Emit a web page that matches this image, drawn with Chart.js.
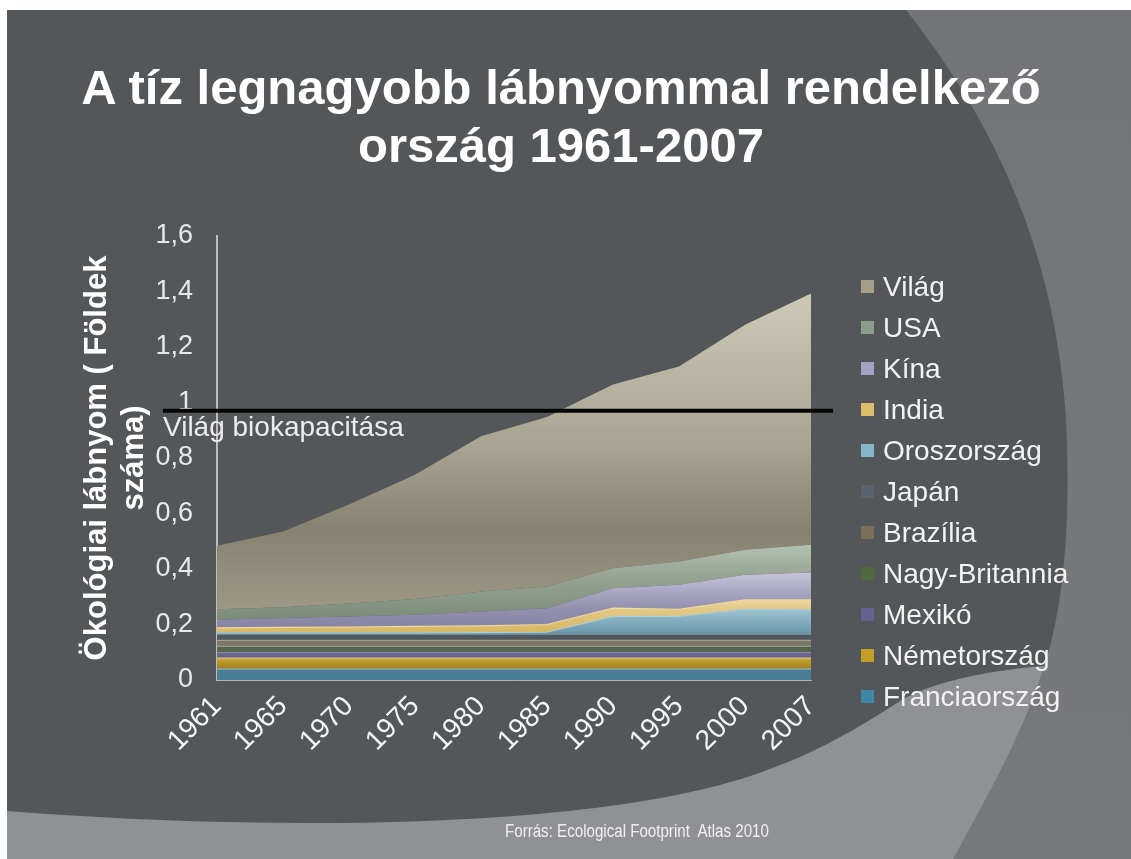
<!DOCTYPE html>
<html lang="hu">
<head>
<meta charset="utf-8">
<title>A tíz legnagyobb lábnyommal rendelkező ország 1961-2007</title>
<script src="https://cdn.jsdelivr.net/npm/chart.js@4.4.1/dist/chart.umd.min.js"></script>
<style>
  html, body { margin: 0; padding: 0; background: #fff; }
  #slide { position: relative; width: 1131px; height: 859px; overflow: hidden; font-family: 'Liberation Sans', Arial, sans-serif; }
  #bg, #c { position: absolute; left: 0; top: 0; }
  #title { position: absolute; left: 0; top: 59px; width: 1122px; text-align: center; color: #fff; font-weight: bold; font-size: 49px; line-height: 57.6px; white-space: nowrap; }
  #legend { position: absolute; left: 861px; top: 266px; }
  .item { height: 41px; display: flex; align-items: center; color: #f2f2f2; font-size: 28px; white-space: nowrap; }
  .item .box { width: 13px; height: 13px; margin-right: 9px; flex: none; }
  #source { position: absolute; left: 505px; top: 822px; font-size: 18px; line-height: 1; color: #f0f0f0; white-space: pre; transform: scaleX(0.84); transform-origin: 0 0; }
</style>
</head>
<body>
<div id="slide">
  <svg id="bg" width="1131" height="859">
    <defs>
      <linearGradient id="side" x1="0" y1="0" x2="0" y2="1">
        <stop offset="0" stop-color="#727477"/>
        <stop offset="1" stop-color="#77797c"/>
      </linearGradient>
    </defs>
    <rect x="7" y="10" width="1124" height="849" fill="#54575a"/>
    <path d="M7 811 C 250 830, 550 830, 720 785 C 790 766, 840 740, 897 703 C 930 681, 1000 668, 1060 665 L1131 650 L1131 859 L7 859 Z" fill="#8f9194"/>
    <path d="M906 10 C 985 110, 1055 240, 1066 420 C 1072 540, 1060 620, 1043 670 C 1020 740, 985 800, 953 859 L1131 859 L1131 10 Z" fill="url(#side)"/>
  </svg>
  <canvas id="c" width="1131" height="859"></canvas>
  <div id="title">A tíz legnagyobb lábnyommal rendelkező<br>ország 1961-2007</div>
  <div id="legend"></div>
  <div id="source">Forrás: Ecological Footprint  Atlas 2010</div>
</div>
<script>
    // adatok (Földek száma, rétegenként)
    const years = ['1961', '1965', '1970', '1975', '1980', '1985', '1990', '1995', '2000', '2007'];
    const franciaorszag = [0.039, 0.039, 0.039, 0.039, 0.039, 0.039, 0.039, 0.039, 0.039, 0.039];
    const nemetorszag   = [0.040, 0.040, 0.040, 0.040, 0.040, 0.040, 0.040, 0.040, 0.040, 0.040];
    const mexiko        = [0.020, 0.020, 0.020, 0.020, 0.020, 0.020, 0.020, 0.020, 0.020, 0.020];
    const nagyBritannia = [0.022, 0.022, 0.022, 0.022, 0.022, 0.022, 0.022, 0.022, 0.022, 0.022];
    const brazilia      = [0.022, 0.022, 0.022, 0.022, 0.022, 0.022, 0.022, 0.022, 0.022, 0.022];
    const japan         = [0.021, 0.021, 0.021, 0.021, 0.021, 0.021, 0.021, 0.021, 0.021, 0.021];
    const oroszorszag   = [0.006, 0.006, 0.006, 0.006, 0.007, 0.008, 0.065, 0.065, 0.091, 0.089];
    const india         = [0.018, 0.020, 0.021, 0.023, 0.024, 0.028, 0.030, 0.026, 0.034, 0.036];
    const kina          = [0.029, 0.033, 0.038, 0.042, 0.052, 0.059, 0.072, 0.088, 0.090, 0.098];
    const usa           = [0.038, 0.039, 0.047, 0.057, 0.072, 0.078, 0.072, 0.084, 0.090, 0.100];
    const vilag         = [0.229, 0.273, 0.356, 0.448, 0.559, 0.611, 0.662, 0.703, 0.811, 0.906];
    const bioCapacity = 0.97;
    const bioLabel = 'Világ biokapacitása';

    // réteg színek: [név, adat, legenda szín, kitöltés (szín vagy gradiens), felső vonal]
    const layers = [
        ['Franciaország', franciaorszag, '#3e88a6', '#497e95', '#86b4c4'],
        ['Németország', nemetorszag, '#c29e25', [[0.946, '#d2b04a'], [0.96, '#b8952a'], [0.971, '#a8861f']], '#d8c27a'],
        ['Mexikó', mexiko, '#66628f', '#6a6590', '#8b87a8'],
        ['Nagy-Britannia', nagyBritannia, '#4f6a3c', '#56654b', '#8f9c84'],
        ['Brazília', brazilia, '#7c7058', '#7e7765', '#a49c88'],
        ['Japán', japan, '#58646d', '#4e5861', '#7d8790'],
        ['Oroszország', oroszorszag, '#86b6ca', [[0.838, '#a3c8d4'], [0.865, '#86b0c0'], [0.894, '#6a98aa']], '#a8ccd8'],
        ['India', india, '#dcbd6c', [[0.815, '#f0dba3'], [0.84, '#e3c987'], [0.887, '#d9b866']], '#efd9a0'],
        ['Kína', kina, '#a4a2c2', [[0.76, '#c4c2d8'], [0.80, '#a9a7c2'], [0.84, '#9290ad'], [0.876, '#8886a5']], null],
        ['USA', usa, '#8c9e8a', [[0.70, '#b1bfae'], [0.76, '#98a795'], [0.82, '#879784'], [0.865, '#7b8c79']], null],
        ['Világ', vilag, '#a59f89', [[0.13, '#cec9b7'], [0.48, '#a8a390'], [0.66, '#878270'], [0.84, '#9d9884']], null]
    ];

    const fmt = v => String(Math.round(v * 10) / 10).replace('.', ',');

    function makeFill(stops) {
        if (typeof stops === 'string') return stops;
        return (c) => {
            const { ctx, chartArea } = c.chart;
            if (!chartArea) return stops[0][1];
            const g = ctx.createLinearGradient(0, chartArea.top, 0, chartArea.bottom);
            stops.forEach(s => g.addColorStop(s[0], s[1]));
            return g;
        };
    }

    const datasets = layers.map((l, i) => ({
        label: l[0],
        data: l[1],
        backgroundColor: makeFill(l[3]),
        borderColor: l[4] || 'rgba(0,0,0,0)',
        borderWidth: l[4] ? 1.2 : 0,
        fill: i === 0 ? 'origin' : '-1',
        pointRadius: 0,
        tension: 0
    }));

    // HTML jelmagyarázat (felülről lefelé: Világ ... Franciaország)
    const legendEl = document.getElementById('legend');
    layers.slice().reverse().forEach(l => {
        const row = document.createElement('div');
        row.className = 'item';
        row.innerHTML = `<span class="box" style="background:${l[2]}"></span><span>${l[0]}</span>`;
        legendEl.appendChild(row);
    });

    const bioLine = {
        id: 'bioLine',
        afterDatasetsDraw(chart) {
            const { ctx, chartArea, scales } = chart;
            const py = scales.y.getPixelForValue(bioCapacity);
            ctx.save();
            ctx.strokeStyle = '#050505';
            ctx.lineWidth = 4;
            ctx.beginPath();
            ctx.moveTo(chartArea.left - 54, py);
            ctx.lineTo(chartArea.right + 22, py);
            ctx.stroke();
            ctx.font = '28px "Liberation Sans", Arial, sans-serif';
            ctx.fillStyle = '#ececec';
            ctx.textBaseline = 'alphabetic';
            ctx.fillText(bioLabel, chartArea.left - 54, py + 25);
            ctx.restore();
        }
    };

    Chart.defaults.font.family = "'Liberation Sans', Arial, sans-serif";

    new Chart(document.getElementById('c'), {
        type: 'line',
        data: { labels: years, datasets: datasets },
        plugins: [bioLine],
        options: {
            responsive: false,
            animation: false,
            layout: { padding: { left: 0, right: 320, top: 236, bottom: 0 } },
            plugins: {
                legend: { display: false },
                tooltip: { enabled: false }
            },
            scales: {
                x: {
                    afterFit: (s) => { s.height = 179; },
                    grid: { display: false, drawTicks: false },
                    border: { display: true, color: '#a8b4ba', width: 1 },
                    ticks: { color: '#f5f5f5', font: { size: 28 }, maxRotation: 45, minRotation: 45, padding: 10, autoSkip: false }
                },
                y: {
                    stacked: true,
                    min: 0,
                    max: 1.6,
                    afterFit: (s) => { s.width = 217; },
                    grid: { display: false, drawTicks: false },
                    border: { display: true, color: '#bdbdbd', width: 2 },
                    ticks: { stepSize: 0.2, color: '#e8e8e8', font: { size: 27 }, padding: 24, callback: fmt },
                    title: {
                        display: true,
                        text: ['Ökológiai lábnyom ( Földek', 'száma)'],
                        color: '#ffffff',
                        font: { size: 31, weight: 'bold', lineHeight: 1.2 },
                        padding: { top: 79, bottom: 0 }
                    }
                }
            }
        }
    });
</script>
</body>
</html>
